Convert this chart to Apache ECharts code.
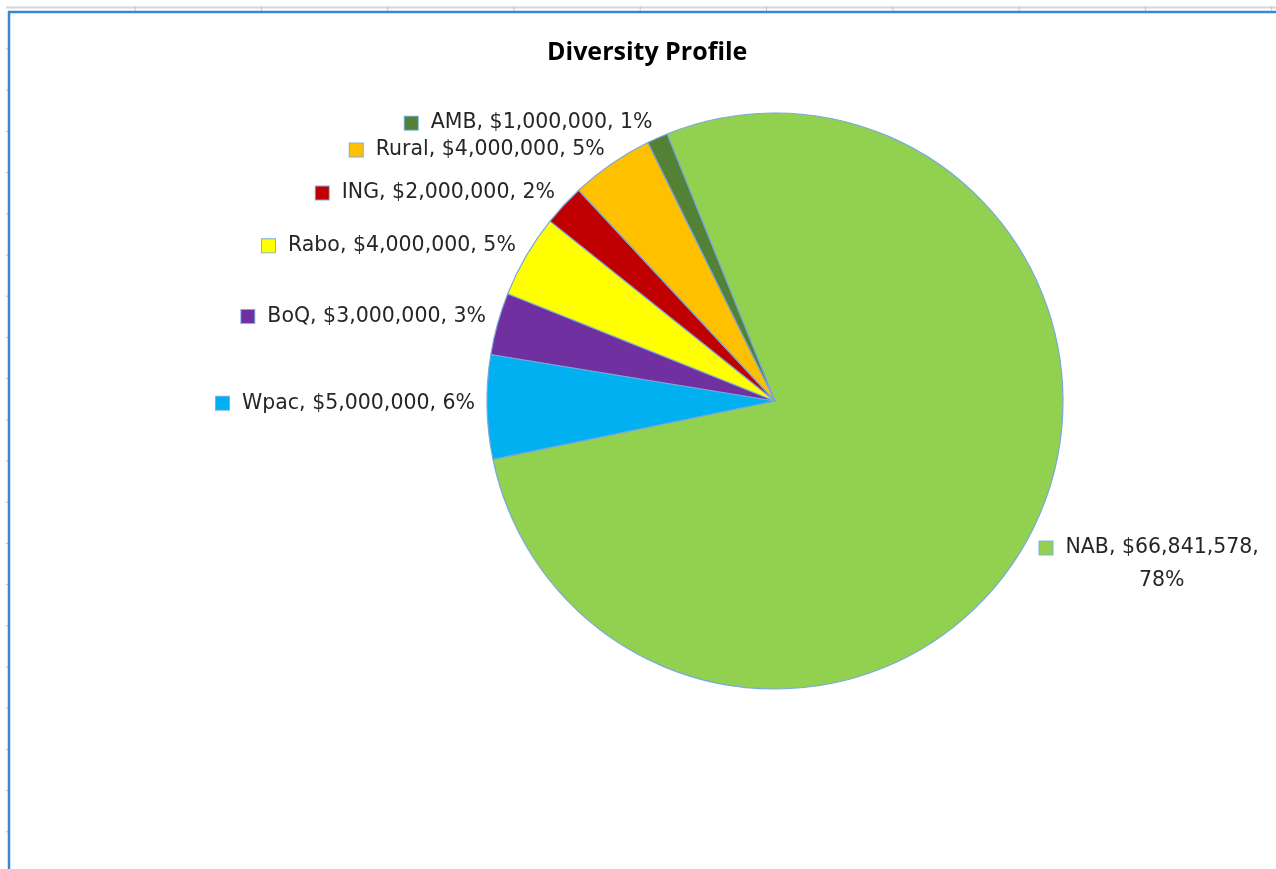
<!DOCTYPE html>
<html>
<head>
<meta charset="utf-8">
<script src="https://cdn.jsdelivr.net/npm/echarts@6/dist/echarts.min.js"></script>
<style>
html,body{margin:0;padding:0;background:#ffffff;}
#chart{width:1276px;height:869px;}
</style>
</head>
<body>
<div id="chart"></div>
<script>
// ---- data ----
const chartTitle = 'Diversity Profile';
const categories = ['NAB', 'Wpac', 'BoQ', 'Rabo', 'ING', 'Rural', 'AMB'];
const values = [66841578, 5000000, 3000000, 4000000, 2000000, 4000000, 1000000];
const sliceColors = ['#92D050', '#00B0F0', '#7030A0', '#FFFF00', '#C00000', '#FFC000', '#538135'];

const total = values.reduce((a, b) => a + b, 0);
const money = v => '$' + v.toLocaleString('en-US');
const pct = v => Math.round(v / total * 100) + '%';
const isLong = v => v >= 10000000;

const labelFont = 'DejaVu Sans';
const textStyle = { fontFamily: labelFont, fontSize: 20.5, color: '#262626', padding: [0, 0, 0, 13] };

const pieData = categories.map((name, i) => ({
  name: name,
  value: values[i],
  itemStyle: { color: sliceColors[i] },
  label: {
    padding: isLong(values[i]) ? [44, 0, 0, 0] : [0, 0, 8, 0],
    rich: {
      sq: { width: 13, height: 13, backgroundColor: sliceColors[i], borderColor: '#7fb0e0', borderWidth: 1 },
      t: Object.assign({}, textStyle, { lineHeight: 33 }),
      p: { fontFamily: labelFont, fontSize: 20.5, color: '#262626', padding: [0, 0, 0, 25], align: 'center', lineHeight: 33 }
    }
  }
}));

// decorative sheet gridlines / chart frame
const W = 1276, H = 869;
const deco = [];
deco.push({ type: 'line', shape: { x1: 6, y1: 7.5, x2: W, y2: 7.5 }, style: { stroke: '#d6d6d6', lineWidth: 2 }, silent: true });
for (let x = 135; x < W; x += 126.3) {
  deco.push({ type: 'line', shape: { x1: x, y1: 6, x2: x, y2: 11 }, style: { stroke: '#c8c8c8', lineWidth: 1 }, silent: true });
}
for (let y = 49; y < H; y += 41.2) {
  deco.push({ type: 'line', shape: { x1: 5.5, y1: y, x2: 8, y2: y }, style: { stroke: '#c8c8c8', lineWidth: 1 }, silent: true });
}
deco.push({ type: 'line', shape: { x1: 8, y1: 12, x2: W, y2: 12 }, style: { stroke: '#3a86d2', lineWidth: 2.5 }, silent: true });
deco.push({ type: 'line', shape: { x1: 9, y1: 11, x2: 9, y2: H }, style: { stroke: '#3a86d2', lineWidth: 2.5 }, silent: true });

const chart = echarts.init(document.getElementById('chart'), null, { renderer: 'canvas' });
chart.setOption({
  backgroundColor: '#ffffff',
  animation: false,
  title: {
    text: chartTitle,
    left: 542,
    top: 35,
    textStyle: { fontFamily: 'Open Sans', fontWeight: 'bold', fontSize: 25, color: '#000000' }
  },
  graphic: deco,
  series: [{
    type: 'pie',
    center: [775, 401],
    radius: 288,
    startAngle: 112,
    clockwise: true,
    avoidLabelOverlap: false,
    itemStyle: { borderColor: '#78a8dc', borderWidth: 1.2 },
    label: {
      show: true,
      position: 'outside',
      distanceToLabelLine: 0,
      color: '#262626',
      formatter: function (p) {
        const v = values[p.dataIndex];
        if (isLong(v)) {
          return '{sq|}{t|' + p.name + ', ' + money(v) + ',}\n{p|' + pct(v) + '}';
        }
        return '{sq|}{t|' + p.name + ', ' + money(v) + ', ' + pct(v) + '}';
      }
    },
    labelLine: { show: false, length: 12, length2: 0 },
    emphasis: { disabled: true },
    data: pieData
  }]
});
</script>
</body>
</html>
